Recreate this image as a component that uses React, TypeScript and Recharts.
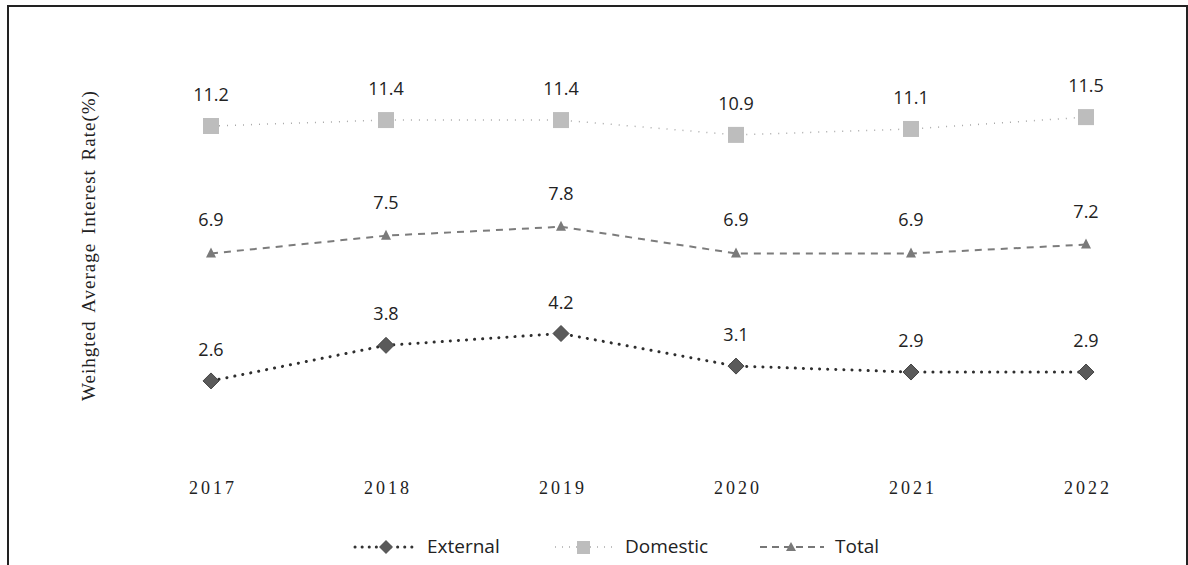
import { LabelList, Line, LineChart, XAxis, YAxis } from "recharts";

const years = ["2017", "2018", "2019", "2020", "2021", "2022"];
const external = [2.6, 3.8, 4.2, 3.1, 2.9, 2.9];
const domestic = [11.2, 11.4, 11.4, 10.9, 11.1, 11.5];
const total = [6.9, 7.5, 7.8, 6.9, 6.9, 7.2];

const data = years.map((year, i) => ({
  year,
  External: external[i],
  Domestic: domestic[i],
  Total: total[i],
}));

const LABEL_FONT = "'Open Sans', 'Noto Sans', sans-serif";
const SERIF = "'Liberation Serif', 'DejaVu Serif', serif";

function Diamond(props: any) {
  const { cx, cy, index } = props;
  if (cx == null || cy == null) return null;
  const r = 8;
  return (
    <path
      key={`d-${index}`}
      d={`M${cx},${cy - r}L${cx + r},${cy}L${cx},${cy + r}L${cx - r},${cy}Z`}
      fill="#5a5a5a"
      stroke="#444"
      strokeWidth={1}
    />
  );
}

function Square(props: any) {
  const { cx, cy, index } = props;
  if (cx == null || cy == null) return null;
  return (
    <rect key={`s-${index}`} x={cx - 8} y={cy - 8} width={16} height={16} fill="#bdbdbd" />
  );
}

function Triangle(props: any) {
  const { cx, cy, index } = props;
  if (cx == null || cy == null) return null;
  return (
    <path
      key={`t-${index}`}
      d={`M${cx},${cy - 6}L${cx + 5},${cy + 4}L${cx - 5},${cy + 4}Z`}
      fill="#7a7a7a"
    />
  );
}

function YTitle(props: any) {
  const vb = props.viewBox || {};
  const x = vb.x + 17;
  const y = vb.y + vb.height / 2 - 5;
  return (
    <text
      x={x}
      y={y}
      transform={`rotate(-90, ${x}, ${y})`}
      textAnchor="middle"
      dominantBaseline="central"
      fontFamily={SERIF}
      fontSize={19}
      letterSpacing={1}
      wordSpacing={3}
      fill="#222"
    >
      Weihgted Average Interest Rate(%)
    </text>
  );
}

// legend pieces: icon left edge, text left edge
const legendItems = [
  { key: "External", iconX: 353, textX: 427 },
  { key: "Domestic", iconX: 553, textX: 625 },
  { key: "Total", iconX: 758, textX: 835 },
];

function LegendIcon({ kind }: { kind: string }) {
  return (
    <svg width={66} height={16}>
      {kind === "External" && (
        <>
          <line x1={2} y1={8} x2={64} y2={8} stroke="#333" strokeWidth={3} strokeDasharray="0.1 7" strokeLinecap="round" />
          <path d="M33,1L40,8L33,15L26,8Z" fill="#5a5a5a" />
        </>
      )}
      {kind === "Domestic" && (
        <>
          <line x1={2} y1={8} x2={60} y2={8} stroke="#aaa" strokeWidth={1.5} strokeDasharray="1 6" />
          <rect x={24} y={2} width={13} height={13} fill="#bdbdbd" />
        </>
      )}
      {kind === "Total" && (
        <>
          <line x1={2} y1={8} x2={66} y2={8} stroke="#777" strokeWidth={2} strokeDasharray="7 5" />
          <path d="M33,3L38,12L28,12Z" fill="#7a7a7a" />
        </>
      )}
    </svg>
  );
}

export default function App() {
  return (
    <div style={{ position: "absolute", left: 0, top: 0, width: 1188, height: 565, background: "#fff", overflow: "hidden" }}>
      <div
        style={{
          position: "absolute",
          left: 7,
          top: 5,
          width: 1177,
          height: 600,
          border: "2px solid #222",
        }}
      />
      <LineChart
        width={1188}
        height={565}
        data={data}
        margin={{ top: 43, right: 102, bottom: 77, left: 71 }}
        style={{ position: "absolute", left: 0, top: 0 }}
      >
        <XAxis
          dataKey="year"
          scale="point"
          padding={{ left: 0, right: 0 }}
          axisLine={false}
          tickLine={false}
          height={30}
          tickMargin={17}
          dx={2}
          tick={{ fill: "#222", fontSize: 18, fontFamily: SERIF, letterSpacing: 3 }}
        />
        <YAxis
          domain={[0, 14]}
          width={140}
          axisLine={false}
          tickLine={false}
          tick={false}
          label={{ content: YTitle }}
        />
        <Line
          type="linear"
          dataKey="Domestic"
          stroke="#a8a8a8"
          strokeWidth={1.5}
          strokeDasharray="1 7"
          dot={Square}
          activeDot={false}
          isAnimationActive={false}
        >
          <LabelList dataKey="Domestic" position="top" offset={25} fill="#222" fontSize={18} fontFamily={LABEL_FONT} />
        </Line>
        <Line
          type="linear"
          dataKey="Total"
          stroke="#7c7c7c"
          strokeWidth={2}
          strokeDasharray="7 6"
          dot={Triangle}
          activeDot={false}
          isAnimationActive={false}
        >
          <LabelList dataKey="Total" position="top" offset={27} fill="#222" fontSize={18} fontFamily={LABEL_FONT} />
        </Line>
        <Line
          type="linear"
          dataKey="External"
          stroke="#2e2e2e"
          strokeWidth={3}
          strokeDasharray="0.1 8"
          strokeLinecap="round"
          dot={Diamond}
          activeDot={false}
          isAnimationActive={false}
        >
          <LabelList dataKey="External" position="top" offset={25} fill="#222" fontSize={18} fontFamily={LABEL_FONT} />
        </Line>
      </LineChart>
      {legendItems.map((it) => (
        <div key={it.key}>
          <div style={{ position: "absolute", left: it.iconX, top: 539 }}>
            <LegendIcon kind={it.key} />
          </div>
          <div
            style={{
              position: "absolute",
              left: it.textX,
              top: 533,
              fontFamily: LABEL_FONT,
              fontSize: 19,
              color: "#222",
              whiteSpace: "nowrap",
            }}
          >
            {it.key}
          </div>
        </div>
      ))}
    </div>
  );
}
